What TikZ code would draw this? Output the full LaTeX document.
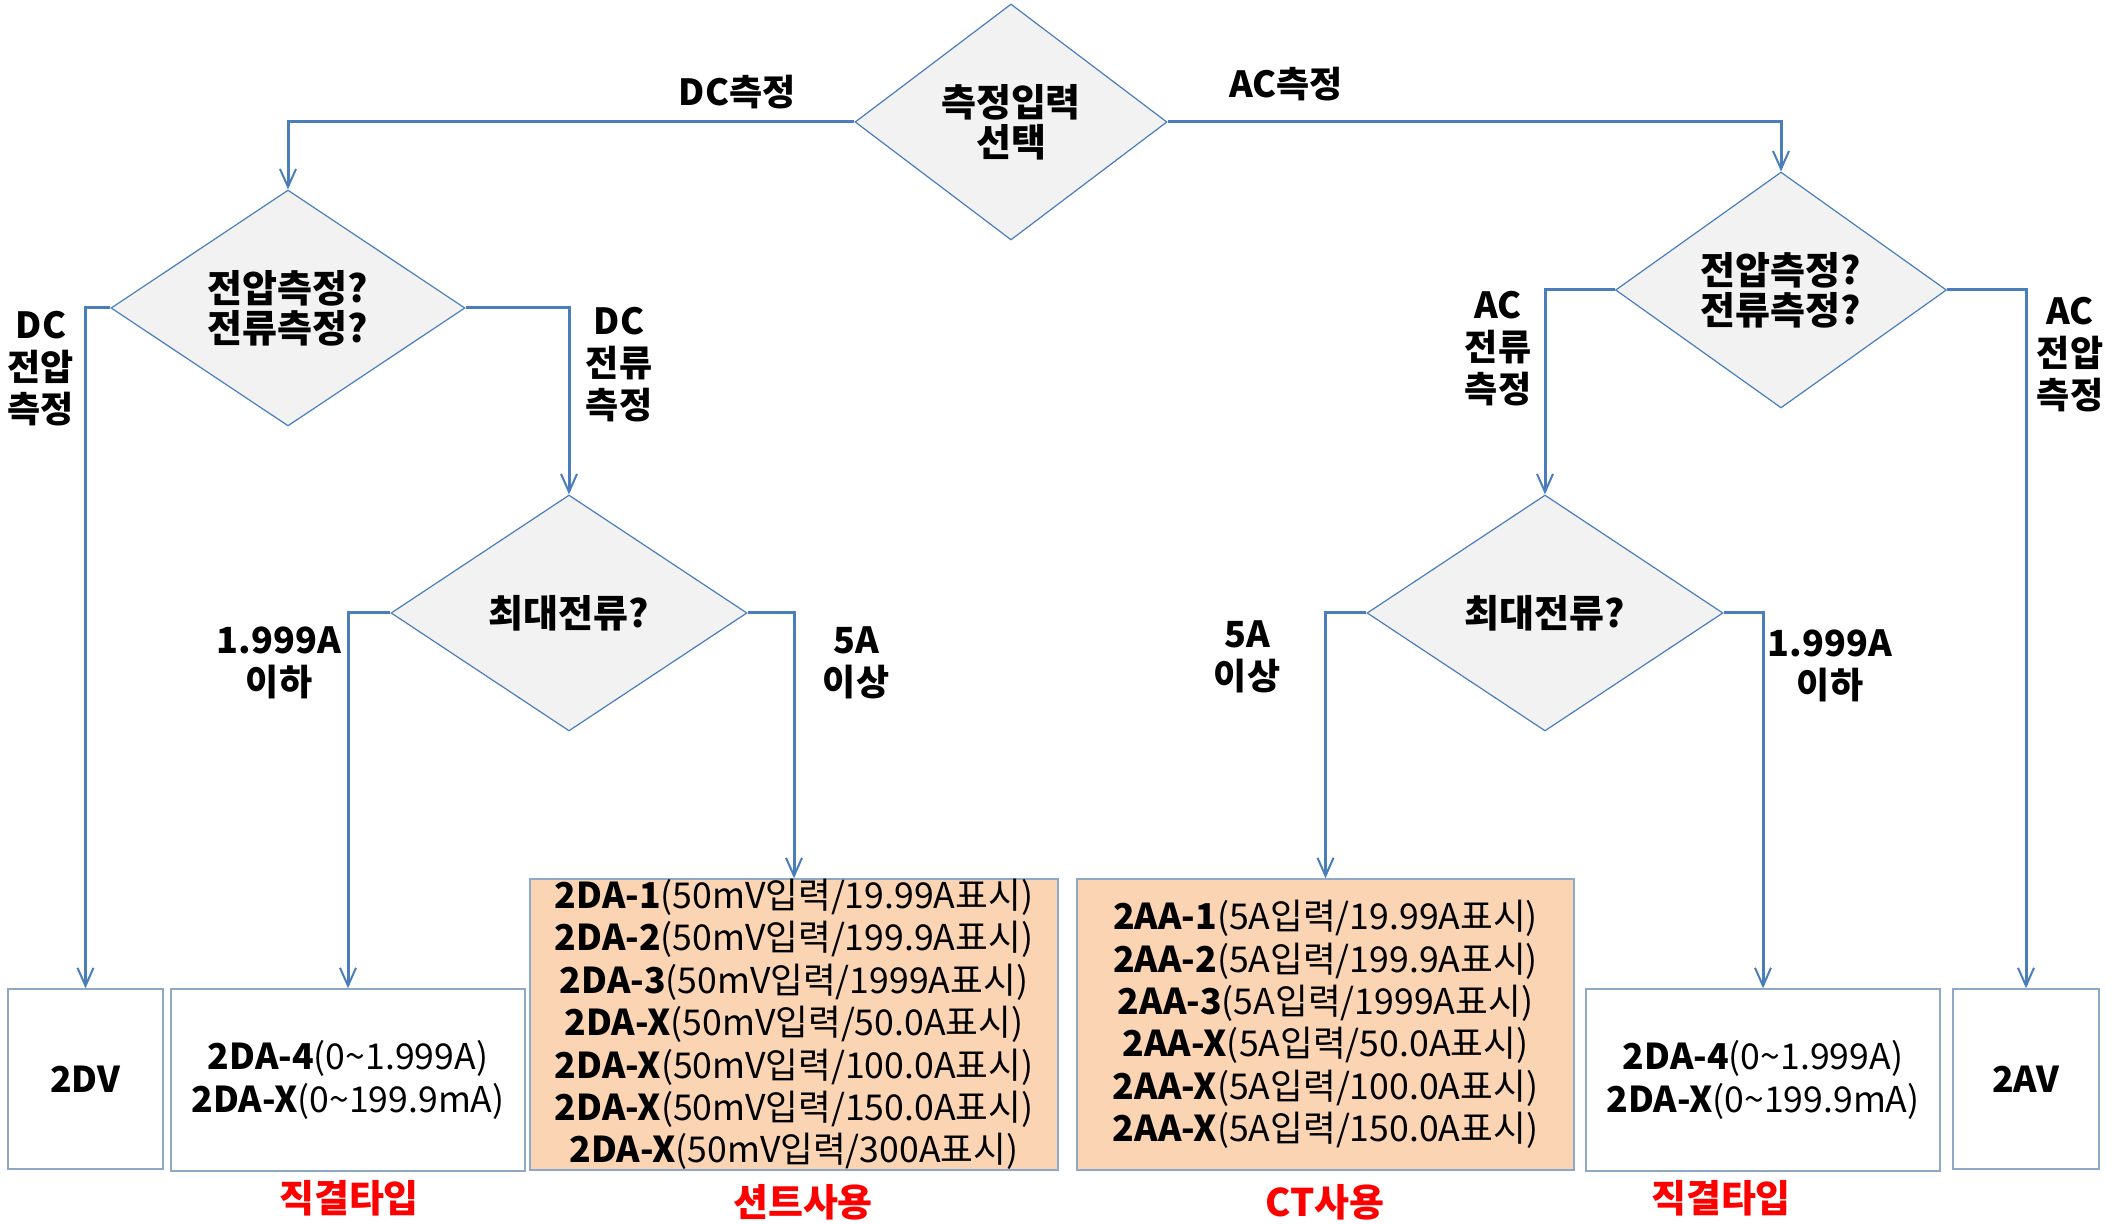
\documentclass[tikz,border=0pt]{standalone}
\usepackage{fontspec}
\setmainfont{Noto Sans CJK KR}
\usetikzlibrary{shapes.geometric,arrows.meta}
\definecolor{lineblue}{HTML}{4A7EBB}
\definecolor{diafill}{HTML}{F2F2F2}
\definecolor{boxborder}{HTML}{8EA9C8}
\definecolor{peach}{HTML}{FBD4B4}
\definecolor{redlab}{HTML}{FF0000}
\newcommand\myfs{\fontsize{18pt}{21pt}\selectfont}
\newcommand\myfsdia{\fontsize{19pt}{20pt}\selectfont}
\newcommand\myfsbox{\fontsize{17.8pt}{21.2pt}\selectfont}
\newcommand\myfsred{\fontsize{19pt}{20pt}\selectfont}
\begin{document}
\begin{tikzpicture}[x=0.5pt,y=-0.5pt,
  dia/.style={diamond, draw=lineblue, line width=0.6pt, fill=diafill, inner sep=0pt, font=\myfsdia\bfseries, align=center},
  conn/.style={draw=lineblue, line width=1.5pt, -{Straight Barb[length=9pt,width=8pt,line width=1pt]}},
  box/.style={draw=boxborder, line width=0.7pt, align=center, inner sep=0pt, font=\myfsbox},
  lab/.style={font=\myfs\bfseries, align=center, inner sep=0pt},
  redlab/.style={font=\myfsred\bfseries, text=redlab, inner sep=0pt}]
\useasboundingbox (0,0) rectangle (2127,1224);
\fill[white] (0,0) rectangle (2127,1224);
% decision diamonds
\node[dia, minimum width=156pt, minimum height=118pt] (top) at (1011,122) {측정입력\\선택};
\node[dia, minimum width=177pt, minimum height=117.5pt] (dcq) at (288,308) {전압측정?\\전류측정?};
\node[dia, minimum width=178pt, minimum height=118pt] (dcm) at (569,613) {최대전류?};
\node[dia, minimum width=165.5pt, minimum height=116.5pt] (acq) at (1781,290) {전압측정?\\전류측정?};
\node[dia, minimum width=178pt, minimum height=118pt] (acm) at (1545,613) {최대전류?};
% result boxes
\node[box, minimum width=77.5pt, minimum height=90pt] (dv) at (85.5,1079) {\textbf{2DV}};
\node[box, minimum width=177pt, minimum height=91pt] (dal) at (348,1080)
  {\textbf{2DA-4}(0\textasciitilde 1.999A)\\\textbf{2DA-X}(0\textasciitilde 199.9mA)};
\node[box, fill=peach, minimum width=264pt, minimum height=145.5pt] (shunt) at (794,1024.5)
  {\textbf{2DA-1}(50mV입력/19.99A표시)\\
   \textbf{2DA-2}(50mV입력/199.9A표시)\\
   \textbf{2DA-3}(50mV입력/1999A표시)\\
   \textbf{2DA-X}(50mV입력/50.0A표시)\\
   \textbf{2DA-X}(50mV입력/100.0A표시)\\
   \textbf{2DA-X}(50mV입력/150.0A표시)\\
   \textbf{2DA-X}(50mV입력/300A표시)};
\node[box, fill=peach, minimum width=248.5pt, minimum height=145.5pt] (ct) at (1325.5,1024.5)
  {\textbf{2AA-1}(5A입력/19.99A표시)\\
   \textbf{2AA-2}(5A입력/199.9A표시)\\
   \textbf{2AA-3}(5A입력/1999A표시)\\
   \textbf{2AA-X}(5A입력/50.0A표시)\\
   \textbf{2AA-X}(5A입력/100.0A표시)\\
   \textbf{2AA-X}(5A입력/150.0A표시)};
\node[box, minimum width=177pt, minimum height=91pt] (dar) at (1763,1080)
  {\textbf{2DA-4}(0\textasciitilde 1.999A)\\\textbf{2DA-X}(0\textasciitilde 199.9mA)};
\node[box, minimum width=73pt, minimum height=90pt] (av) at (2026,1079) {\textbf{2AV}};
% connectors
\draw[conn] (top.west) -| (dcq.north);
\draw[conn] (top.east) -| (acq.north);
\draw[conn] (dcq.west) -| (dv.north);
\draw[conn] (dcq.east) -| (dcm.north);
\draw[conn] (dcm.west) -| (dal.north);
\draw[conn] (dcm.east) -| (shunt.north);
\draw[conn] (acq.west) -| (acm.north);
\draw[conn] (acq.east) -| (av.north);
\draw[conn] (acm.west) -| (ct.north);
\draw[conn] (acm.east) -| (dar.north);
% branch labels
\node[lab] (l1) at (737,92) {DC측정};
\node[lab] (l2) at (1286,84) {AC측정};
\node[lab] (l3) at (41,369) {DC\\전압\\측정};
\node[lab] (l4) at (619,365) {DC\\전류\\측정};
\node[lab] (l5) at (279,663) {1.999A\\이하};
\node[lab] (l6) at (856,663) {5A\\이상};
\node[lab] (l7) at (1498,349) {AC\\전류\\측정};
\node[lab] (l8) at (2070,355) {AC\\전압\\측정};
\node[lab] (l9) at (1247,657) {5A\\이상};
\node[lab] (l10) at (1830,666) {1.999A\\이하};
% red captions
\node[redlab] (r1) at (349,1198) {직결타입};
\node[redlab] (r2) at (803,1202) {션트사용};
\node[redlab] (r3) at (1325,1202) {CT사용};
\node[redlab] (r4) at (1721,1198) {직결타입};
\end{tikzpicture}
\end{document}
